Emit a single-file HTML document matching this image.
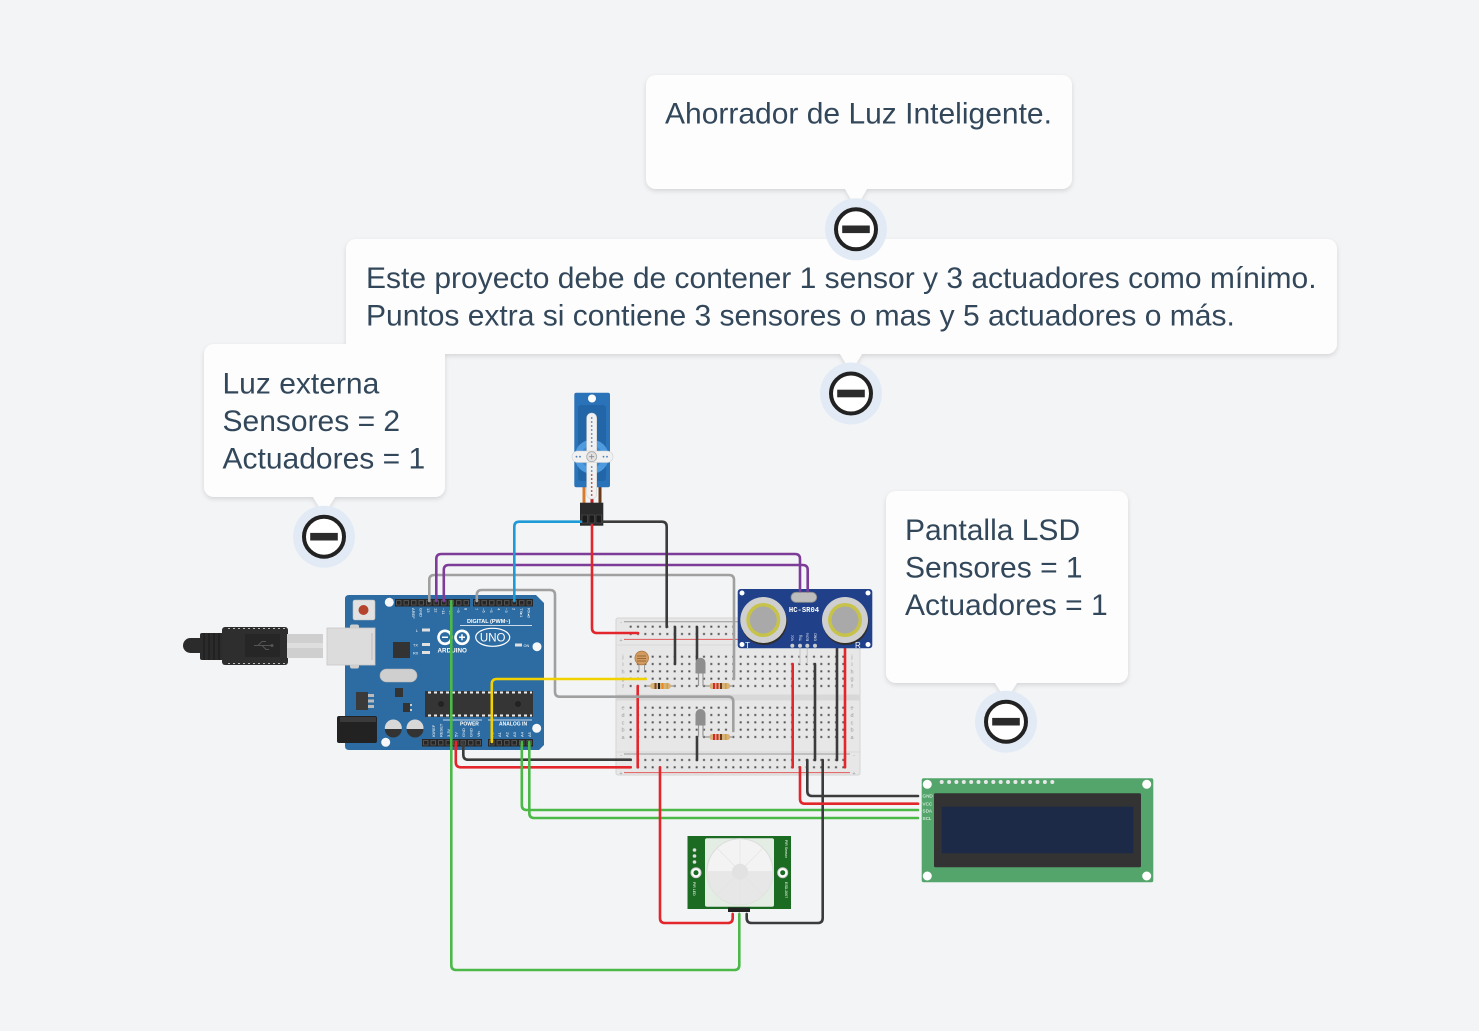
<!DOCTYPE html>
<html><head><meta charset="utf-8"><style>
html,body{margin:0;padding:0;background:#f3f4f6;}
svg{display:block;}
</style></head><body>
<svg width="1479" height="1031" viewBox="0 0 1479 1031" xmlns="http://www.w3.org/2000/svg" font-family="'Liberation Sans', Arial, sans-serif">
<defs>
<filter id="sh" x="-5%" y="-10%" width="110%" height="130%"><feDropShadow dx="0" dy="2" stdDeviation="2.5" flood-color="#000" flood-opacity="0.13"/></filter>
<pattern id="dots" width="7.333" height="7.333" patternUnits="userSpaceOnUse"><rect x="2.67" y="2.67" width="2" height="2" fill="#555"/></pattern>
<pattern id="chipd" width="6" height="3" patternUnits="userSpaceOnUse"><rect x="1" y="0" width="3" height="2" fill="#eee"/></pattern>
</defs>
<rect width="1479" height="1031" fill="#f3f4f6"/>

<!-- ============ BREADBOARD ============ -->
<g>
<rect x="616" y="618" width="244" height="157" rx="2" fill="#e7e7e7" stroke="#d4d4d4" stroke-width="1"/>
<line x1="616" y1="645" x2="860" y2="645" stroke="#dadada"/>
<line x1="616" y1="752" x2="860" y2="752" stroke="#dadada"/>
<rect x="616" y="694.5" width="244" height="6" fill="#d8d8d8"/>
<line x1="624" y1="621.7" x2="850" y2="621.7" stroke="#9a9a9a" stroke-width="1"/>
<line x1="624" y1="639.4" x2="850" y2="639.4" stroke="#e25a5a" stroke-width="1"/>
<line x1="624" y1="754" x2="850" y2="754" stroke="#9a9a9a" stroke-width="1"/>
<line x1="624" y1="772.6" x2="850" y2="772.6" stroke="#e25a5a" stroke-width="1"/>
<g transform="translate(627,623)"><rect width="220" height="14.67" fill="url(#dots)"/></g>
<g transform="translate(627,653)"><rect width="220" height="36.67" fill="url(#dots)"/></g>
<g transform="translate(627,704)"><rect width="220" height="36.67" fill="url(#dots)"/></g>
<g transform="translate(627,756.3)"><rect width="220" height="14.67" fill="url(#dots)"/></g>
<g font-size="5.5" fill="#9a9a9a" text-anchor="middle">
<text x="621" y="624">-</text><text x="621" y="642">+</text>
<text x="621" y="757">-</text><text x="621" y="775">+</text>
<text x="854" y="757">-</text><text x="854" y="775">+</text>
<text x="623" y="658.7">j</text><text x="623" y="666">i</text><text x="623" y="673.3">h</text><text x="623" y="680.7">g</text><text x="623" y="688">f</text>
<text x="623" y="709.7">e</text><text x="623" y="717">d</text><text x="623" y="724.3">c</text><text x="623" y="731.7">b</text><text x="623" y="739">a</text>
<text x="852" y="658.7">j</text><text x="852" y="666">i</text><text x="852" y="673.3">h</text><text x="852" y="680.7">g</text><text x="852" y="688">f</text>
<text x="852" y="709.7">e</text><text x="852" y="717">d</text><text x="852" y="724.3">c</text><text x="852" y="731.7">b</text><text x="852" y="739">a</text>
</g>
<!-- photoresistor -->
<line x1="639" y1="663" x2="639" y2="671" stroke="#999" stroke-width="1"/>
<line x1="644.5" y1="663" x2="644.5" y2="671" stroke="#999" stroke-width="1"/>
<circle cx="641.7" cy="658" r="6.8" fill="#d19b62" stroke="#b07a40" stroke-width=".8"/>
<path d="M637,656 h9 M637,658.5 h9 M637,661 h9" stroke="#8a5a2a" stroke-width=".7"/>
<!-- resistor 1 -->
<line x1="645.7" y1="686" x2="675" y2="686" stroke="#999" stroke-width="1.3"/>
<rect x="650" y="683" width="21" height="6" rx="3" fill="#d9b27a"/>
<rect x="654.5" y="683" width="2" height="6" fill="#7a4a1e"/>
<rect x="658" y="683" width="2" height="6" fill="#222"/>
<rect x="661.5" y="683" width="2" height="6" fill="#e8891e"/>
<rect x="666.5" y="683" width="1.5" height="6" fill="#c9a43a"/>
<!-- resistor 2 -->
<line x1="705" y1="686" x2="733" y2="686" stroke="#999" stroke-width="1.3"/>
<rect x="709.3" y="683" width="21" height="6" rx="3" fill="#d9b27a"/>
<rect x="713" y="683" width="2" height="6" fill="#d42a2a"/>
<rect x="716.5" y="683" width="2" height="6" fill="#d42a2a"/>
<rect x="720" y="683" width="2" height="6" fill="#6a3a1a"/>
<rect x="725" y="683" width="1.5" height="6" fill="#c9a43a"/>
<!-- resistor 3 -->
<line x1="705" y1="737" x2="733" y2="737" stroke="#999" stroke-width="1.3"/>
<rect x="709.3" y="734" width="21" height="6" rx="3" fill="#d9b27a"/>
<rect x="713" y="734" width="2" height="6" fill="#d42a2a"/>
<rect x="716.5" y="734" width="2" height="6" fill="#d42a2a"/>
<rect x="720" y="734" width="2" height="6" fill="#6a3a1a"/>
<rect x="725" y="734" width="1.5" height="6" fill="#c9a43a"/>
</g>

<!-- breadboard straight wires -->
<g fill="none" stroke-width="2.6" stroke-linecap="round">
<line x1="675" y1="627" x2="675" y2="664" stroke="#3b3b3b"/>
<line x1="697" y1="627" x2="697" y2="660" stroke="#3b3b3b"/>
<line x1="697" y1="737" x2="697" y2="760" stroke="#3b3b3b"/>
<line x1="637.7" y1="686" x2="637.7" y2="767.3" stroke="#e3262b"/>
<line x1="792.7" y1="664" x2="792.7" y2="767.3" stroke="#e3262b"/>
<line x1="815" y1="664" x2="815" y2="760" stroke="#3b3b3b"/>
<line x1="837" y1="647" x2="837" y2="760" stroke="#3b3b3b"/>
<line x1="845" y1="647" x2="845" y2="767.3" stroke="#e3262b"/>
</g>
<!-- LEDs -->
<g>
<line x1="698.5" y1="672" x2="698.5" y2="686" stroke="#999" stroke-width="1.2"/>
<line x1="703" y1="672" x2="703" y2="686" stroke="#999" stroke-width="1.2"/>
<path d="M695.5,673.5 V662.7 A5,5 0 0 1 705.5,662.7 V673.5 Z" fill="#8e8e8e"/>
<line x1="698.5" y1="724" x2="698.5" y2="737" stroke="#999" stroke-width="1.2"/>
<line x1="703" y1="724" x2="703" y2="737" stroke="#999" stroke-width="1.2"/>
<path d="M695.5,725.5 V714 A5,5 0 0 1 705.5,714 V725.5 Z" fill="#8e8e8e"/>
</g>

<!-- ============ HC-SR04 ============ -->
<g>
<line x1="800" y1="646" x2="800" y2="664" stroke="#ccc" stroke-width="1.2"/>
<line x1="807.3" y1="646" x2="807.3" y2="664" stroke="#ccc" stroke-width="1.2"/>
<rect x="737.7" y="589" width="134.6" height="59.3" rx="3" fill="#20408a"/>
<circle cx="742" cy="593" r="2.5" fill="#fff"/><circle cx="868" cy="593" r="2.5" fill="#fff"/>
<circle cx="742" cy="644.5" r="2.5" fill="#fff"/><circle cx="868" cy="644.5" r="2.5" fill="#fff"/>
<circle cx="764" cy="622" r="23" fill="#2e2e2e"/>
<circle cx="763.3" cy="620" r="23" fill="#cfcfcf"/>
<circle cx="763.3" cy="620" r="17" fill="#c7c34a"/>
<circle cx="763.3" cy="620" r="13.5" fill="#a9a9a9"/>
<circle cx="845.7" cy="622" r="23" fill="#2e2e2e"/>
<circle cx="845" cy="620" r="23" fill="#cfcfcf"/>
<circle cx="845" cy="620" r="17" fill="#c7c34a"/>
<circle cx="845" cy="620" r="13.5" fill="#a9a9a9"/>
<rect x="791" y="592.3" width="25.7" height="10" rx="5" fill="#bdbdbd" stroke="#8a8a8a" stroke-width=".8"/>
<text x="804" y="612" font-size="7.2" fill="#fff" text-anchor="middle" font-family="'Liberation Mono', monospace" font-weight="bold">HC-SR04</text>
<g font-size="3.6" fill="#fff">
<text transform="translate(793.6,641) rotate(-90)">Vcc</text>
<text transform="translate(801.3,641) rotate(-90)">Trig</text>
<text transform="translate(808.6,641) rotate(-90)">Echo</text>
<text transform="translate(816.3,641) rotate(-90)">GND</text>
</g>
<circle cx="792.3" cy="645.7" r="2" fill="#ccc"/><circle cx="800" cy="645.7" r="2" fill="#ccc"/>
<circle cx="807.3" cy="645.7" r="2" fill="#ccc"/><circle cx="815" cy="645.7" r="2" fill="#ccc"/>
<text x="745" y="648" font-size="8" fill="#fff">T</text>
<text x="855" y="648" font-size="8" fill="#fff">R</text>
</g>

<!-- ============ ARDUINO ============ -->
<g>
<!-- cable -->
<rect x="183" y="638" width="24" height="15" rx="7.5" fill="#2b2b2b"/>
<rect x="200" y="633" width="24" height="27" rx="2" fill="#2b2b2b"/>
<path d="M204,633 v27 M209,633 v27 M214,633 v27 M219,633 v27" stroke="#1c1c1c" stroke-width="1.2"/>
<rect x="222" y="627" width="66" height="38" rx="3" fill="#2e2e2e"/>
<path d="M228,628.5 h60" stroke="#bbb" stroke-width="1" stroke-dasharray="2,3"/>
<path d="M228,663.5 h60" stroke="#bbb" stroke-width="1" stroke-dasharray="2,3"/>
<rect x="245" y="634" width="35" height="23" fill="#262626"/>
<path d="M254,645.5 h18 M258,645.5 l4,-4 h4 M262,645.5 l4,4 h3" stroke="#555" stroke-width="1" fill="none"/>
<circle cx="272" cy="645.5" r="1.5" fill="#555"/>
<rect x="287" y="634" width="36" height="24" fill="#cfcfcf"/>
<rect x="287" y="643" width="36" height="5" fill="#dedede"/>
<!-- board -->
<path d="M349,595 H536 L544,603 V745 L539,750 H349 Q345,750 345,746 V599 Q345,595 349,595 Z" fill="#2d6ca2"/>
<!-- usb port -->
<rect x="350" y="624.5" width="9" height="6" rx="2" fill="#cfcfcf"/>
<rect x="350" y="662.5" width="9" height="6" rx="2" fill="#cfcfcf"/>
<rect x="327" y="628" width="48" height="37" fill="#dcdcdc" stroke="#c8c8c8" stroke-width=".8"/>
<line x1="372" y1="633" x2="372" y2="660" stroke="#bbb" stroke-width="1"/>
<!-- jack -->
<rect x="337" y="716" width="40" height="27" rx="2" fill="#222"/>
<rect x="340" y="717" width="36" height="5" fill="#3a3a3a"/>
<!-- reset -->
<rect x="353" y="600" width="22" height="20" rx="2" fill="#e2e2e2" stroke="#bbb" stroke-width=".6"/>
<circle cx="363.5" cy="610" r="5" fill="#b4442c"/>
<!-- holes -->
<circle cx="389.3" cy="602.3" r="4.5" fill="#f7f7f7"/>
<circle cx="537" cy="646.7" r="4.5" fill="#f7f7f7"/>
<circle cx="536.7" cy="728.3" r="4.5" fill="#f7f7f7"/>
<circle cx="385.7" cy="742.3" r="4.5" fill="#f7f7f7"/>
<!-- parts -->
<rect x="393" y="642" width="17" height="16" fill="#333"/>
<rect x="380" y="669" width="37" height="13" rx="6.5" fill="#cfcfcf" stroke="#b5b5b5" stroke-width=".6"/>
<rect x="356" y="692" width="12" height="18" fill="#3a3a3a"/>
<rect x="368" y="694" width="6" height="3" fill="#bbb"/><rect x="368" y="699.5" width="6" height="3" fill="#bbb"/><rect x="368" y="705" width="6" height="3" fill="#bbb"/>
<rect x="395" y="688" width="8" height="9" fill="#333"/>
<rect x="403" y="703" width="7" height="9" fill="#333"/>
<rect x="410" y="704" width="2" height="2" fill="#ccc"/><rect x="410" y="709" width="2" height="2" fill="#ccc"/>
<circle cx="393.3" cy="728" r="8.5" fill="#d8d8d8"/>
<path d="M384.8,729 A8.5,8.5 0 0 0 401.8,729 Z" fill="#333"/>
<circle cx="415" cy="728" r="8.5" fill="#d8d8d8"/>
<path d="M406.5,729 A8.5,8.5 0 0 0 423.5,729 Z" fill="#333"/>
<!-- main chip -->
<rect x="425" y="691" width="108" height="26" fill="#353535"/>
<g transform="translate(427,691.5)"><rect width="105" height="2" fill="url(#chipd)"/></g>
<g transform="translate(427,714.5)"><rect width="105" height="2" fill="url(#chipd)"/></g>
<circle cx="441" cy="704" r="3" fill="#222"/><circle cx="518" cy="704" r="3" fill="#222"/>
<!-- headers -->
<rect x="395" y="599" width="75" height="7.5" fill="#262626"/>
<rect x="473" y="599" width="60" height="7.5" fill="#262626"/>
<rect x="422" y="739" width="60" height="7.5" fill="#262626"/>
<rect x="488" y="739" width="45" height="7.5" fill="#262626"/>
<g fill="none" stroke="#5e5e5e" stroke-width=".8">
<path d="M396.5,600.5 h4.5 v4.5 h-4.5z M404,600.5 h4.5 v4.5 h-4.5z M411.5,600.5 h4.5 v4.5 h-4.5z M419,600.5 h4.5 v4.5 h-4.5z M426.5,600.5 h4.5 v4.5 h-4.5z M434,600.5 h4.5 v4.5 h-4.5z M441.5,600.5 h4.5 v4.5 h-4.5z M449,600.5 h4.5 v4.5 h-4.5z M456.5,600.5 h4.5 v4.5 h-4.5z M464,600.5 h4.5 v4.5 h-4.5z"/>
<path d="M474.5,600.5 h4.5 v4.5 h-4.5z M482,600.5 h4.5 v4.5 h-4.5z M489.5,600.5 h4.5 v4.5 h-4.5z M497,600.5 h4.5 v4.5 h-4.5z M504.5,600.5 h4.5 v4.5 h-4.5z M512,600.5 h4.5 v4.5 h-4.5z M519.5,600.5 h4.5 v4.5 h-4.5z M527,600.5 h4.5 v4.5 h-4.5z"/>
<path d="M423.5,740.5 h4.5 v4.5 h-4.5z M431,740.5 h4.5 v4.5 h-4.5z M438.5,740.5 h4.5 v4.5 h-4.5z M446,740.5 h4.5 v4.5 h-4.5z M453.5,740.5 h4.5 v4.5 h-4.5z M461,740.5 h4.5 v4.5 h-4.5z M468.5,740.5 h4.5 v4.5 h-4.5z M476,740.5 h4.5 v4.5 h-4.5z"/>
<path d="M489.5,740.5 h4.5 v4.5 h-4.5z M497,740.5 h4.5 v4.5 h-4.5z M504.5,740.5 h4.5 v4.5 h-4.5z M512,740.5 h4.5 v4.5 h-4.5z M519.5,740.5 h4.5 v4.5 h-4.5z M527,740.5 h4.5 v4.5 h-4.5z"/>
</g>
<!-- labels -->
<g font-size="4" fill="#fff">
<text transform="translate(411.8,608) rotate(90)">AREF</text>
<text transform="translate(419.3,608) rotate(90)">GND</text>
<text transform="translate(426.8,608) rotate(90)">13</text>
<text transform="translate(434.3,608) rotate(90)">12</text>
<text transform="translate(441.8,608) rotate(90)">~11</text>
<text transform="translate(449.3,608) rotate(90)">~10</text>
<text transform="translate(456.8,608) rotate(90)">~9</text>
<text transform="translate(464.3,608) rotate(90)">8</text>
<text transform="translate(474.8,608) rotate(90)">7</text>
<text transform="translate(482.3,608) rotate(90)">~6</text>
<text transform="translate(489.8,608) rotate(90)">~5</text>
<text transform="translate(497.3,608) rotate(90)">4</text>
<text transform="translate(504.8,608) rotate(90)">~3</text>
<text transform="translate(512.3,608) rotate(90)">2</text>
<text transform="translate(519.8,608) rotate(90)">TX▸1</text>
<text transform="translate(527.3,608) rotate(90)">RX◂0</text>
<text transform="translate(434.8,737) rotate(-90)">IOREF</text>
<text transform="translate(442.3,737) rotate(-90)">RESET</text>
<text transform="translate(449.8,737) rotate(-90)">3.3V</text>
<text transform="translate(457.3,737) rotate(-90)">5V</text>
<text transform="translate(464.8,737) rotate(-90)">GND</text>
<text transform="translate(472.3,737) rotate(-90)">GND</text>
<text transform="translate(479.8,737) rotate(-90)">Vin</text>
<text transform="translate(493.3,737) rotate(-90)">A0</text>
<text transform="translate(500.8,737) rotate(-90)">A1</text>
<text transform="translate(508.3,737) rotate(-90)">A2</text>
<text transform="translate(515.8,737) rotate(-90)">A3</text>
<text transform="translate(523.3,737) rotate(-90)">A4</text>
<text transform="translate(530.8,737) rotate(-90)">A5</text>
</g>
<text x="467" y="623" font-size="5.5" font-weight="bold" fill="#fff">DIGITAL (PWM~)</text>
<line x1="460" y1="625.5" x2="532" y2="625.5" stroke="#fff" stroke-width=".7"/>
<line x1="443" y1="720" x2="482" y2="720" stroke="#fff" stroke-width=".7"/>
<line x1="488" y1="720" x2="532" y2="720" stroke="#fff" stroke-width=".7"/>
<text x="460" y="725.5" font-size="5" font-weight="bold" fill="#fff">POWER</text>
<text x="499" y="725.5" font-size="5" font-weight="bold" fill="#fff">ANALOG IN</text>
<!-- leds -->
<rect x="422" y="628.5" width="8" height="3" fill="#e0e0e0"/>
<rect x="422" y="643" width="8" height="3" fill="#e0e0e0"/>
<rect x="422" y="651" width="8" height="3" fill="#e0e0e0"/>
<rect x="515" y="643.5" width="7" height="3" fill="#e0e0e0"/>
<g font-size="3.8" fill="#fff"><text x="416" y="632">L</text><text x="413" y="646.5">TX</text><text x="413" y="654.5">RX</text><text x="523.5" y="647">ON</text></g>
<!-- logo -->
<circle cx="445" cy="637.3" r="6.5" fill="none" stroke="#fff" stroke-width="2.6"/>
<circle cx="462" cy="637.3" r="6.5" fill="none" stroke="#fff" stroke-width="2.6"/>
<path d="M442,637.3 h6 M459,637.3 h6 M462,634.3 v6" stroke="#fff" stroke-width="1.5"/>
<text x="437.5" y="652.5" font-size="6.3" font-weight="bold" fill="#fff">ARDUINO</text>
<ellipse cx="492.7" cy="637.3" rx="17" ry="9" fill="none" stroke="#fff" stroke-width="1.2"/>
<text x="492.7" y="641.5" font-size="11.5" fill="#fff" text-anchor="middle">UNO</text>
</g>

<!-- ============ SERVO ============ -->
<g>
<line x1="584" y1="486" x2="584" y2="504" stroke="#d97b2e" stroke-width="3"/>
<line x1="592" y1="486" x2="592" y2="504" stroke="#b82424" stroke-width="3"/>
<line x1="600" y1="486" x2="600" y2="504" stroke="#6a3b1b" stroke-width="3"/>
<rect x="574.3" y="392.7" width="35.7" height="94.6" rx="2" fill="#2a73b9"/>
<rect x="578" y="405" width="28" height="76" rx="3" fill="#2266a8"/>
<circle cx="592" cy="398.5" r="4" fill="#fff"/>
<circle cx="591.7" cy="456.7" r="17" fill="#4f9be0"/>
<circle cx="591.7" cy="456.7" r="11" fill="#3f88cf"/>
<rect x="586.7" y="413" width="10" height="86" rx="5" fill="#f1f1f1" stroke="#cfcfcf" stroke-width=".6"/>
<rect x="572" y="451" width="41" height="11.5" rx="5.7" fill="#f1f1f1" stroke="#cfcfcf" stroke-width=".6"/>
<g fill="#4a7fc0"><circle cx="591.7" cy="418" r=".9"/><circle cx="591.7" cy="422" r=".9"/><circle cx="591.7" cy="426" r=".9"/><circle cx="591.7" cy="430" r=".9"/><circle cx="591.7" cy="434" r=".9"/><circle cx="591.7" cy="438" r=".9"/><circle cx="591.7" cy="442" r=".9"/><circle cx="591.7" cy="446" r=".9"/><circle cx="576.5" cy="456.7" r=".9"/><circle cx="580" cy="456.7" r=".9"/><circle cx="603.5" cy="456.7" r=".9"/><circle cx="607" cy="456.7" r=".9"/><circle cx="591.7" cy="467" r=".9"/><circle cx="591.7" cy="471" r=".9"/></g>
<g fill="#a83232"><circle cx="591.7" cy="475" r=".9"/><circle cx="591.7" cy="479" r=".9"/><circle cx="591.7" cy="483" r=".9"/><circle cx="591.7" cy="487" r=".9"/><circle cx="591.7" cy="491" r=".9"/><circle cx="591.7" cy="495" r=".9"/></g>
<circle cx="591.7" cy="456.7" r="5" fill="#e2e2e2" stroke="#a8a8a8" stroke-width=".8"/>
<path d="M589.2,456.7 h5 M591.7,454.2 v5" stroke="#888" stroke-width=".8"/>
<rect x="580" y="502.7" width="23.3" height="23" fill="#2a2a2a"/>
<rect x="582" y="515" width="5.5" height="8" fill="#1b1b1b" stroke="#555" stroke-width=".6"/>
<rect x="589" y="515" width="5.5" height="8" fill="#1b1b1b" stroke="#555" stroke-width=".6"/>
<rect x="596" y="515" width="5.5" height="8" fill="#1b1b1b" stroke="#555" stroke-width=".6"/>
</g>

<!-- ============ LCD ============ -->
<g>
<rect x="921.7" y="778.3" width="231.6" height="104" rx="2" fill="#53a56b"/>
<circle cx="927.3" cy="784.3" r="4.5" fill="#fff"/><circle cx="1146.7" cy="784.3" r="4.5" fill="#fff"/>
<circle cx="927.3" cy="876" r="4.5" fill="#fff"/><circle cx="1146.7" cy="876" r="4.5" fill="#fff"/>
<g fill="#e8e8e8">
<circle cx="941.7" cy="782" r="2"/><circle cx="949.1" cy="782" r="2"/><circle cx="956.4" cy="782" r="2"/><circle cx="963.8" cy="782" r="2"/><circle cx="971.2" cy="782" r="2"/><circle cx="978.5" cy="782" r="2"/><circle cx="985.9" cy="782" r="2"/><circle cx="993.3" cy="782" r="2"/><circle cx="1000.7" cy="782" r="2"/><circle cx="1008" cy="782" r="2"/><circle cx="1015.4" cy="782" r="2"/><circle cx="1022.8" cy="782" r="2"/><circle cx="1030.1" cy="782" r="2"/><circle cx="1037.5" cy="782" r="2"/><circle cx="1044.9" cy="782" r="2"/><circle cx="1052.3" cy="782" r="2"/>
</g>
<rect x="934" y="793.3" width="207" height="74" rx="1.5" fill="#333"/>
<rect x="941.7" y="806.7" width="191.6" height="46.6" fill="#1c2947"/>
<g font-size="4.6" fill="#fff"><text x="922.5" y="797.6">GND</text><text x="922.5" y="805.3">VCC</text><text x="922.5" y="812.6">SDA</text><text x="922.5" y="819.9">SCL</text></g>
</g>

<!-- ============ PIR ============ -->
<g>
<line x1="732.7" y1="910" x2="732.7" y2="920" stroke="#ccc" stroke-width="1.3"/>
<line x1="739.3" y1="910" x2="739.3" y2="920" stroke="#ccc" stroke-width="1.3"/>
<line x1="746.7" y1="910" x2="746.7" y2="920" stroke="#ccc" stroke-width="1.3"/>
<rect x="687.5" y="836" width="103.5" height="73" fill="#1c6b22"/>
<rect x="705" y="838.3" width="69" height="68.4" rx="2" fill="#e3ede3"/>
<circle cx="740" cy="871.7" r="33" fill="#f3f3f3" stroke="#dcdcdc" stroke-width="1"/>
<path d="M707,871.7 A33,33 0 0 0 773,871.7 Z" fill="#e7e7e7"/>
<path d="M740,839 V904 M707,871.7 H773 M717,848 L763,895 M763,848 L717,895" stroke="#e2e2e2" stroke-width=".6"/>
<circle cx="740" cy="871.7" r="8" fill="#e2e2e2"/>
<circle cx="696" cy="872.7" r="5" fill="#fff" stroke="#ccc" stroke-width="1"/><circle cx="696" cy="872.7" r="2.5" fill="#1c6b22"/>
<circle cx="782.7" cy="872.7" r="5" fill="#fff" stroke="#ccc" stroke-width="1"/><circle cx="782.7" cy="872.7" r="2.5" fill="#1c6b22"/>
<circle cx="694.5" cy="850" r="1.8" fill="#ddd"/><circle cx="694.5" cy="856" r="1.8" fill="#ddd"/><circle cx="694.5" cy="862" r="1.8" fill="#ddd"/>
<g font-size="3.5" fill="#fff">
<text transform="translate(693,882) rotate(90)">PIR LED</text>
<text transform="translate(785,840) rotate(90)">PIR Sensor</text>
<text transform="translate(785,882) rotate(90)">ESD-2007</text>
</g>
<rect x="728" y="907.5" width="22" height="4.5" fill="#222"/>
</g>

<!-- ============ WIRES ============ -->
<g fill="none" stroke-width="2.6" stroke-linecap="round" stroke-linejoin="round">
<path d="M429.3,601 V580 Q429.3,575 434.3,575 H729 Q734,575 734,580 V679" stroke="#a0a0a0"/>
<path d="M436.3,601 V559 Q436.3,554 441.3,554 H795 Q800,554 800,559 V591" stroke="#7d3c98"/>
<path d="M443.8,601 V570 Q443.8,565 448.8,565 H802.7 Q807.7,565 807.7,570 V591" stroke="#7d3c98"/>
<path d="M476.8,601 V595 Q476.8,590 481.8,590 H550 Q555,590 555,595 V691.7 Q555,696.7 560,696.7 H728.3 Q733.3,696.7 733.3,701.7 V731" stroke="#a0a0a0"/>
<path d="M514.3,601 V526.7 Q514.3,521.7 519.3,521.7 H581" stroke="#1e9ad6"/>
<path d="M592,525 V628 Q592,633 597,633 H638" stroke="#e3262b"/>
<path d="M603,521.7 H661.7 Q666.7,521.7 666.7,526.7 V627" stroke="#3b3b3b"/>
<path d="M491.8,742 V684 Q491.8,679 496.8,679 H645.7" stroke="#f1d100"/>
<path d="M455.8,742 V762.3 Q455.8,767.3 460.8,767.3 H630.7" stroke="#e3262b"/>
<path d="M463.3,742 V754.7 Q463.3,759.7 468.3,759.7 H630.7" stroke="#3b3b3b"/>
<path d="M521.8,742 V805 Q521.8,810 526.8,810 H918" stroke="#4cb848"/>
<path d="M529.3,742 V813 Q529.3,818 534.3,818 H918" stroke="#4cb848"/>
<path d="M660,767.3 V918 Q660,923 665,923 H727.7 Q732.7,923 732.7,918 V914" stroke="#e3262b"/>
<path d="M822.7,760 V918 Q822.7,923 817.7,923 H751.7 Q746.7,923 746.7,918 V914" stroke="#3b3b3b"/>
<path d="M807.3,760 V791 Q807.3,796 812.3,796 H918" stroke="#3b3b3b"/>
<path d="M800,767.3 V798.7 Q800,803.7 805,803.7 H918" stroke="#e3262b"/>
<path d="M451.3,601 V965 Q451.3,970 456.3,970 H734.3 Q739.3,970 739.3,965 V914" stroke="#4cb848"/>
</g>

<!-- ============ CALLOUTS ============ -->
<g fill="#fdfdfd" filter="url(#sh)">
<path d="M214,344 H435 A10,10 0 0 1 445,354 V487 A10,10 0 0 1 435,497 H335 L324,515 L313,497 H214 A10,10 0 0 1 204,487 V354 A10,10 0 0 1 214,344 Z"/>
<path d="M656,75 H1062 A10,10 0 0 1 1072,85 V179 A10,10 0 0 1 1062,189 H867 L856,208 L845,189 H656 A10,10 0 0 1 646,179 V85 A10,10 0 0 1 656,75 Z"/>
<path d="M356,239 H1327 A10,10 0 0 1 1337,249 V344 A10,10 0 0 1 1327,354 H862 L851,372 L840,354 H356 A10,10 0 0 1 346,344 V249 A10,10 0 0 1 356,239 Z"/>
<path d="M896,491 H1118 A10,10 0 0 1 1128,501 V673 A10,10 0 0 1 1118,683 H1017 L1006,700 L995,683 H896 A10,10 0 0 1 886,673 V501 A10,10 0 0 1 896,491 Z"/>
</g>
<g font-size="30" fill="#33475b">
<text x="665" y="123.3">Ahorrador de Luz Inteligente.</text>
<text x="366" y="288">Este proyecto debe de contener 1 sensor y 3 actuadores como mínimo.</text>
<text x="366" y="325.5">Puntos extra si contiene 3 sensores o mas y 5 actuadores o más.</text>
<text x="222.5" y="393.3">Luz externa</text>
<text x="222.5" y="430.8">Sensores = 2</text>
<text x="222.5" y="468.3">Actuadores = 1</text>
<text x="905" y="540">Pantalla LSD</text>
<text x="905" y="577.5">Sensores = 1</text>
<text x="905" y="615">Actuadores = 1</text>
</g>

<!-- circle icons -->
<g>
<circle cx="856" cy="229.3" r="31" fill="#e2ebf5"/>
<circle cx="856" cy="229.3" r="20" fill="#fff" stroke="#222" stroke-width="4"/>
<rect x="842.2" y="225.5" width="27.6" height="7.6" fill="#2b2b2b"/>
<circle cx="851" cy="393.5" r="31" fill="#e2ebf5"/>
<circle cx="851" cy="393.5" r="20" fill="#fff" stroke="#222" stroke-width="4"/>
<rect x="837.2" y="389.7" width="27.6" height="7.6" fill="#2b2b2b"/>
<circle cx="324" cy="536.7" r="31" fill="#e2ebf5"/>
<circle cx="324" cy="536.7" r="20" fill="#fff" stroke="#222" stroke-width="4"/>
<rect x="310.2" y="532.9" width="27.6" height="7.6" fill="#2b2b2b"/>
<circle cx="1006" cy="721.7" r="31" fill="#e2ebf5"/>
<circle cx="1006" cy="721.7" r="20" fill="#fff" stroke="#222" stroke-width="4"/>
<rect x="992.2" y="717.9" width="27.6" height="7.6" fill="#2b2b2b"/>
</g>
</svg>
</body></html>
